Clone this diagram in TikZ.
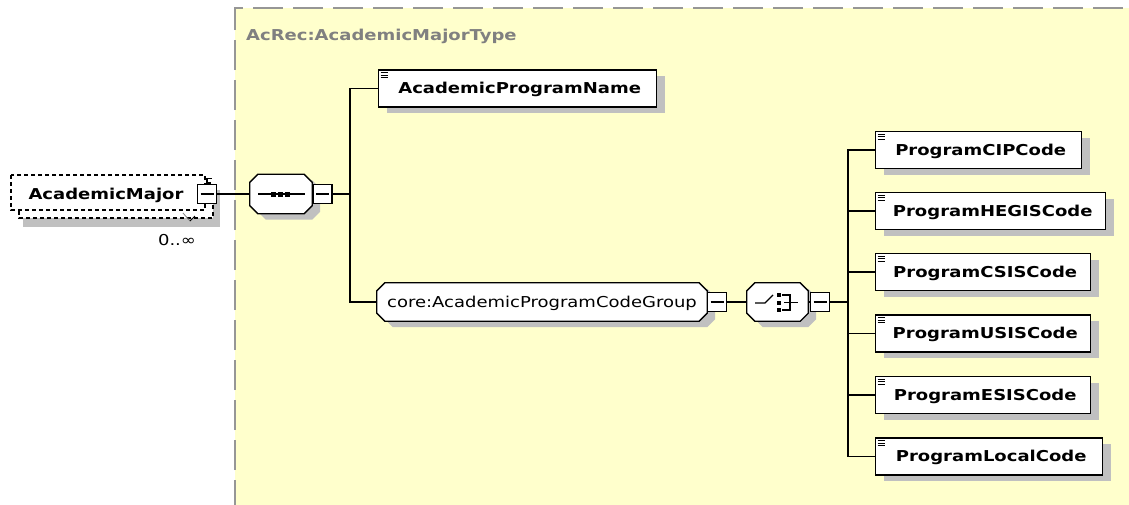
\documentclass[tikz,border=0pt]{standalone}
\usepackage{fontspec}
\setmainfont{DejaVu Sans}[FakeStretch=1.2]
\usetikzlibrary{calc,shadows}
\pgfdeclarelayer{bgl}
\pgfdeclarelayer{octl}
\pgfsetlayers{bgl,octl,main}
\definecolor{bgyel}{RGB}{255,255,204}
\definecolor{shgray}{RGB}{192,192,192}
\definecolor{bordgray}{RGB}{150,150,150}
\definecolor{titlegray}{RGB}{128,128,128}
\newcommand\octdraw[1]{%
  \begin{pgfonlayer}{octl}
  \fill[shgray] ($(#1.north west)+(16,6)$) -- ($(#1.north east)+(0,6)$) -- ($(#1.north east)+(8,14)$) -- ($(#1.south east)+(8,-2)$) -- ($(#1.south east)+(0,6)$) -- ($(#1.south west)+(16,6)$) -- ($(#1.south west)+(8,-2)$) -- ($(#1.north west)+(8,14)$) -- cycle;
  \draw[line width=1.3pt,fill=white] ($(#1.north west)+(8,0)$) -- ($(#1.north east)+(-8,0)$) -- ($(#1.north east)+(0,8)$) -- ($(#1.south east)+(0,-8)$) -- ($(#1.south east)+(-8,0)$) -- ($(#1.south west)+(8,0)$) -- ($(#1.south west)+(0,-8)$) -- ($(#1.north west)+(0,8)$) -- cycle;
  \end{pgfonlayer}}
\tikzset{
  txt/.style={font=\fontsize{15}{18}\selectfont},
  elem/.style={draw, line width=1.4pt, fill=white, anchor=west, minimum height=37pt,
    inner sep=0pt, text height=10.9pt, text depth=0pt, font=\fontsize{15}{18}\selectfont\bfseries,
    drop shadow={shadow xshift=8pt,shadow yshift=-6pt,fill=shgray,opacity=1},
    path picture={\foreach \yy in {2.5,5,7.5}
      \draw[line width=0.9pt] ([shift={(2,\yy)}]path picture bounding box.north west) -- ++(7,0);}},
  octbox/.style={draw=none, inner sep=0pt, text height=10.9pt, text depth=0pt, font=\fontsize{15}{18}\selectfont},
  minus/.style={draw, line width=1.2pt, fill=white, minimum size=19pt, inner sep=0pt,
    path picture={\draw[line width=1.1pt] ([xshift=3pt]path picture bounding box.west) -- ([xshift=-3pt]path picture bounding box.east);}},
  conn/.style={line width=1.1pt, black},
  dsh/.style={line width=1.1pt, dash pattern=on 4pt off 3pt, fill=white}
}
\begin{document}
\begin{tikzpicture}[x=1pt,y=-1pt]
\useasboundingbox (0,0) rectangle (1129,504);
% background type region
\begin{pgfonlayer}{bgl}
\fill[bgyel] (235,8) rectangle (1135,510);
\draw[bordgray, line width=2pt, dash pattern=on 30pt off 10pt] (235,510) -- (235,8) -- (1135,8);
\end{pgfonlayer}
\node[anchor=west, inner sep=0pt, text height=10.9pt, text depth=0pt, font=\fontsize{15}{18}\selectfont\bfseries, text=titlegray] (title) at (246,35) {AcRec:AcademicMajorType};

% AcademicMajor (optional, unbounded)
\fill[shgray] (23,190) rectangle (220,227);
\draw[dsh] (19,183) rectangle (213,218);
\draw[dsh] (11,175) rectangle (205,210);
\node[octbox, minimum width=194pt, minimum height=35pt, font=\fontsize{15}{18}\selectfont\bfseries] (am) at (106,194) {AcademicMajor};
\draw[gray, line width=0.8pt] (183,213) -- (190,221);
\draw[line width=0.8pt] (190,221) -- (195,216);
\node[minus] (amm) at (207,194) {};
\draw[line width=1.1pt] (amm.north) -- ++(0,-5) -- ++(5,0);
\node[txt, inner sep=0pt] (occ) at (177,240) {0..∞};

% sequence
\node[octbox, minimum width=62pt, minimum height=39pt] (seq) at (281,194) {};
\octdraw{seq}
\begin{scope}[shift={(seq.center)}]
  \draw[line width=1.1pt] (-23,0) -- (24,0);
  \foreach \xx in {-8,-1,6} \fill (\xx-2.5,-2.5) rectangle (\xx+2.5,2.5);
\end{scope}
\node[minus] (seqm) at (322.5,194) {};
\coordinate (j1) at (350,194);

% children of sequence
\node[elem, minimum width=278pt] (apn) at (378,88.5) {\hspace*{4pt}AcademicProgramName};
\node[octbox, minimum width=330pt, minimum height=38pt] (grp) at (542,302) {core:AcademicProgramCodeGroup};
\octdraw{grp}
\node[minus] (grpm) at (717,302) {};

% choice
\node[octbox, minimum width=61pt, minimum height=38pt] (ch) at (777.5,302) {};
\octdraw{ch}
\begin{scope}[shift={(ch.center)}]
  \draw[line width=1.1pt] (-22.5,1) -- (-12.5,1) -- (-4.5,-7);
  \foreach \yy in {-7.5,0.5,7.5} \fill (-0.5,\yy-2) rectangle (3.5,\yy+2);
  \draw[line width=1.1pt] (4.5,-7) -- (12.5,-7) -- (12.5,8) -- (4.5,8);
  \draw[line width=1.1pt] (6.5,0.5) -- (20.5,0.5);
\end{scope}
\node[minus] (chm) at (820,302) {};
\coordinate (j2) at (848,302);

% choice children
\node[elem, minimum width=206pt] (cip) at (875,150) {\hspace*{4pt}ProgramCIPCode};
\node[elem, minimum width=230pt] (hegis) at (875,211) {\hspace*{4pt}ProgramHEGISCode};
\node[elem, minimum width=215pt] (csis) at (875,272) {\hspace*{4pt}ProgramCSISCode};
\node[elem, minimum width=215pt] (usis) at (875,333.5) {\hspace*{4pt}ProgramUSISCode};
\node[elem, minimum width=215pt] (esis) at (875,395) {\hspace*{4pt}ProgramESISCode};
\node[elem, minimum width=227pt] (local) at (875,456.5) {\hspace*{4pt}ProgramLocalCode};

% connectors
\draw[conn] (amm.east) -- (seq.west);
\draw[conn] (seqm.east) -- (j1);
\draw[conn] (j1) |- (apn.west);
\draw[conn] (j1) |- (grp.west);
\draw[conn] (grpm.east) -- (ch.west);
\draw[conn] (ch.east) -- (chm.west);
\draw[conn] (chm.east) -- (j2);
\foreach \n in {cip,hegis,csis,usis,esis,local} \draw[conn] (j2) |- (\n.west);
\end{tikzpicture}
\end{document}
